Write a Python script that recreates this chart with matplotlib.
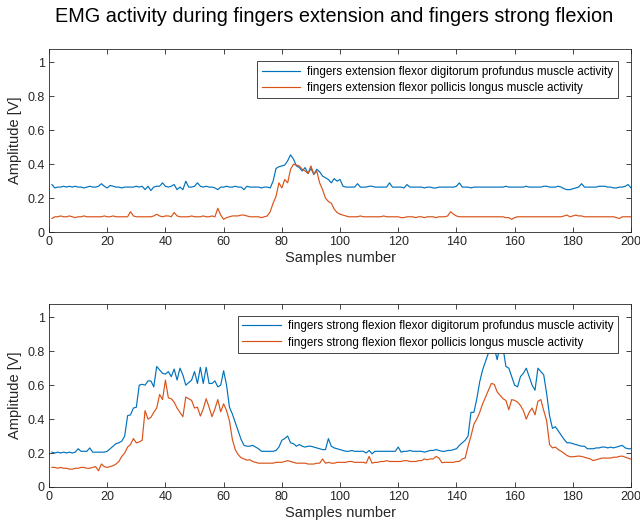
import numpy as np
import matplotlib
matplotlib.use('Agg')
import matplotlib.pyplot as plt
from matplotlib.ticker import FormatStrFormatter

plt.rcParams['font.family'] = ['Liberation Sans', 'DejaVu Sans']

# sample index (1..200)
samples = np.arange(1, 201)

# fingers extension - flexor digitorum profundus
ext_fdp = [
    0.28, 0.26, 0.265, 0.265, 0.27, 0.265, 0.27, 0.265, 0.27, 0.265,
    0.265, 0.26, 0.265, 0.27, 0.265, 0.265, 0.27, 0.285, 0.27, 0.26,
    0.275, 0.27, 0.265, 0.265, 0.26, 0.265, 0.265, 0.265, 0.265, 0.27,
    0.265, 0.27, 0.25, 0.27, 0.245, 0.265, 0.27, 0.27, 0.29, 0.27,
    0.265, 0.27, 0.28, 0.25, 0.265, 0.25, 0.30, 0.265, 0.265, 0.27,
    0.29, 0.27, 0.265, 0.27, 0.265, 0.265, 0.26, 0.25, 0.265, 0.265,
    0.27, 0.265, 0.265, 0.27, 0.265, 0.265, 0.25, 0.27, 0.265, 0.265,
    0.265, 0.265, 0.26, 0.265, 0.265, 0.26, 0.30, 0.375, 0.385, 0.39,
    0.395, 0.42, 0.455, 0.43, 0.39, 0.38, 0.36, 0.38, 0.345, 0.375,
    0.34, 0.37, 0.355, 0.33, 0.32, 0.31, 0.29, 0.315, 0.30, 0.31,
    0.27, 0.265, 0.265, 0.265, 0.265, 0.285, 0.265, 0.265, 0.265, 0.27,
    0.27, 0.265, 0.265, 0.265, 0.265, 0.265, 0.29, 0.265, 0.265, 0.265,
    0.265, 0.26, 0.28, 0.265, 0.265, 0.265, 0.265, 0.265, 0.26, 0.265,
    0.265, 0.26, 0.26, 0.265, 0.265, 0.265, 0.265, 0.265, 0.265, 0.27,
    0.29, 0.265, 0.265, 0.265, 0.26, 0.265, 0.265, 0.265, 0.265, 0.265,
    0.265, 0.265, 0.265, 0.265, 0.265, 0.265, 0.27, 0.265, 0.265, 0.265,
    0.265, 0.265, 0.265, 0.27, 0.265, 0.265, 0.265, 0.265, 0.265, 0.27,
    0.27, 0.265, 0.265, 0.265, 0.27, 0.265, 0.255, 0.25, 0.25, 0.255,
    0.26, 0.265, 0.285, 0.265, 0.265, 0.265, 0.265, 0.265, 0.27, 0.27,
    0.27, 0.265, 0.265, 0.26, 0.26, 0.265, 0.265, 0.27, 0.28, 0.26,
]

# fingers extension - flexor pollicis longus
ext_fpl = [
    0.08, 0.09, 0.09, 0.095, 0.09, 0.09, 0.095, 0.09, 0.085, 0.09,
    0.09, 0.095, 0.09, 0.09, 0.09, 0.09, 0.09, 0.09, 0.095, 0.09,
    0.09, 0.095, 0.09, 0.09, 0.09, 0.09, 0.09, 0.12, 0.095, 0.09,
    0.09, 0.09, 0.09, 0.09, 0.09, 0.095, 0.105, 0.095, 0.09, 0.095,
    0.095, 0.09, 0.115, 0.095, 0.09, 0.09, 0.09, 0.09, 0.095, 0.09,
    0.09, 0.09, 0.095, 0.09, 0.09, 0.095, 0.09, 0.14, 0.10, 0.075,
    0.085, 0.09, 0.095, 0.095, 0.095, 0.10, 0.10, 0.095, 0.09, 0.09,
    0.09, 0.09, 0.085, 0.09, 0.095, 0.12, 0.17, 0.21, 0.29, 0.26,
    0.31, 0.29, 0.37, 0.40, 0.395, 0.39, 0.37, 0.36, 0.345, 0.39,
    0.34, 0.36, 0.29, 0.25, 0.20, 0.18, 0.17, 0.135, 0.115, 0.105,
    0.10, 0.095, 0.09, 0.09, 0.09, 0.09, 0.095, 0.09, 0.09, 0.09,
    0.09, 0.09, 0.09, 0.09, 0.095, 0.09, 0.09, 0.09, 0.09, 0.09,
    0.085, 0.085, 0.09, 0.09, 0.09, 0.085, 0.09, 0.09, 0.085, 0.09,
    0.09, 0.09, 0.085, 0.09, 0.09, 0.09, 0.095, 0.12, 0.105, 0.095,
    0.09, 0.09, 0.09, 0.09, 0.09, 0.09, 0.09, 0.09, 0.09, 0.09,
    0.09, 0.09, 0.09, 0.09, 0.09, 0.09, 0.085, 0.085, 0.075, 0.085,
    0.09, 0.09, 0.09, 0.09, 0.09, 0.09, 0.09, 0.09, 0.09, 0.09,
    0.09, 0.09, 0.09, 0.09, 0.09, 0.09, 0.095, 0.10, 0.09, 0.095,
    0.10, 0.095, 0.095, 0.09, 0.09, 0.09, 0.09, 0.09, 0.09, 0.09,
    0.09, 0.09, 0.09, 0.09, 0.085, 0.08, 0.09, 0.09, 0.09, 0.09,
]

# fingers strong flexion - flexor digitorum profundus
flex_fdp = [
    0.205, 0.20, 0.205, 0.20, 0.205, 0.20, 0.205, 0.20, 0.205, 0.225,
    0.21, 0.21, 0.21, 0.23, 0.205, 0.205, 0.205, 0.205, 0.205, 0.21,
    0.225, 0.24, 0.255, 0.26, 0.27, 0.30, 0.42, 0.425, 0.465, 0.47,
    0.60, 0.605, 0.60, 0.625, 0.625, 0.59, 0.71, 0.69, 0.67, 0.665,
    0.68, 0.65, 0.695, 0.63, 0.70, 0.66, 0.60, 0.615, 0.63, 0.68,
    0.61, 0.705, 0.61, 0.705, 0.61, 0.61, 0.625, 0.59, 0.60, 0.685,
    0.60, 0.47, 0.43, 0.38, 0.33, 0.28, 0.245, 0.24, 0.24, 0.245,
    0.235, 0.225, 0.21, 0.21, 0.21, 0.21, 0.21, 0.215, 0.235, 0.275,
    0.285, 0.30, 0.26, 0.255, 0.24, 0.25, 0.24, 0.235, 0.24, 0.24,
    0.235, 0.23, 0.225, 0.22, 0.22, 0.285, 0.24, 0.23, 0.225, 0.22,
    0.215, 0.21, 0.21, 0.215, 0.21, 0.21, 0.21, 0.21, 0.20, 0.215,
    0.195, 0.21, 0.21, 0.21, 0.21, 0.21, 0.21, 0.21, 0.21, 0.235,
    0.205, 0.21, 0.21, 0.215, 0.21, 0.21, 0.21, 0.21, 0.205, 0.21,
    0.215, 0.215, 0.22, 0.215, 0.21, 0.21, 0.215, 0.215, 0.22, 0.225,
    0.245, 0.26, 0.275, 0.30, 0.44, 0.44, 0.52, 0.62, 0.69, 0.74,
    0.79, 0.84, 0.82, 0.75, 0.84, 0.82, 0.71, 0.70, 0.65, 0.60,
    0.59, 0.65, 0.67, 0.70, 0.65, 0.60, 0.57, 0.70, 0.68, 0.66,
    0.55, 0.42, 0.345, 0.355, 0.33, 0.305, 0.28, 0.26, 0.26, 0.255,
    0.25, 0.245, 0.24, 0.24, 0.225, 0.225, 0.225, 0.23, 0.23, 0.235,
    0.235, 0.23, 0.235, 0.23, 0.235, 0.24, 0.245, 0.23, 0.225, 0.225,
]

# fingers strong flexion - flexor pollicis longus
flex_fpl = [
    0.115, 0.115, 0.11, 0.115, 0.11, 0.11, 0.105, 0.105, 0.11, 0.11,
    0.115, 0.115, 0.11, 0.11, 0.115, 0.12, 0.095, 0.135, 0.12, 0.115,
    0.12, 0.125, 0.135, 0.15, 0.18, 0.20, 0.235, 0.25, 0.285, 0.26,
    0.265, 0.275, 0.45, 0.40, 0.41, 0.44, 0.465, 0.545, 0.515, 0.63,
    0.525, 0.52, 0.50, 0.465, 0.44, 0.414, 0.53, 0.52, 0.51, 0.465,
    0.47, 0.418, 0.46, 0.52, 0.47, 0.414, 0.46, 0.515, 0.443, 0.49,
    0.45, 0.39, 0.28, 0.22, 0.19, 0.172, 0.165, 0.158, 0.16, 0.15,
    0.145, 0.14, 0.14, 0.14, 0.14, 0.14, 0.14, 0.145, 0.145, 0.145,
    0.15, 0.155, 0.15, 0.145, 0.14, 0.14, 0.14, 0.14, 0.135, 0.135,
    0.135, 0.14, 0.14, 0.165, 0.14, 0.145, 0.14, 0.14, 0.145, 0.145,
    0.145, 0.145, 0.15, 0.15, 0.145, 0.145, 0.145, 0.145, 0.14, 0.18,
    0.14, 0.145, 0.145, 0.15, 0.15, 0.155, 0.15, 0.15, 0.15, 0.15,
    0.15, 0.155, 0.155, 0.15, 0.15, 0.15, 0.155, 0.155, 0.165, 0.16,
    0.165, 0.165, 0.18, 0.17, 0.143, 0.145, 0.145, 0.145, 0.145, 0.15,
    0.15, 0.165, 0.17, 0.24, 0.30, 0.37, 0.40, 0.44, 0.49, 0.53,
    0.57, 0.61, 0.605, 0.56, 0.54, 0.52, 0.51, 0.455, 0.515, 0.51,
    0.50, 0.48, 0.45, 0.40, 0.44, 0.465, 0.425, 0.505, 0.515, 0.45,
    0.39, 0.25, 0.23, 0.235, 0.22, 0.21, 0.198, 0.185, 0.178, 0.178,
    0.18, 0.182, 0.18, 0.175, 0.17, 0.165, 0.155, 0.16, 0.165, 0.17,
    0.17, 0.17, 0.17, 0.175, 0.175, 0.18, 0.182, 0.175, 0.17, 0.163,
]

title = 'EMG activity during fingers extension and fingers strong flexion'
ext_labels = ['fingers extension flexor digitorum profundus muscle activity',
              'fingers extension flexor pollicis longus muscle activity']
flex_labels = ['fingers strong flexion flexor digitorum profundus muscle activity',
               'fingers strong flexion flexor pollicis longus muscle activity']

blue = '#0072BD'
orange = '#D95319'
axcol = '#262626'

fig = plt.figure(figsize=(6.4, 5.31), dpi=100)
ax1 = fig.add_axes([0.0766, 0.563, 0.9094, 0.345])
ax2 = fig.add_axes([0.0766, 0.083, 0.9094, 0.345])

for ax, (a, b), labels in [(ax1, (ext_fdp, ext_fpl), ext_labels),
                           (ax2, (flex_fdp, flex_fpl), flex_labels)]:
    ax.plot(samples, a, color=blue, lw=0.85, label=labels[0])
    ax.plot(samples, b, color=orange, lw=0.85, label=labels[1])
    ax.set_xlim(0, 200)
    ax.set_ylim(0, 1.08)
    ax.set_xticks(np.arange(0, 201, 20))
    ax.set_yticks([0, 0.2, 0.4, 0.6, 0.8, 1])
    ax.yaxis.set_major_formatter(FormatStrFormatter('%g'))
    ax.tick_params(direction='in', top=True, right=True, length=3.5,
                   width=0.6, labelsize=9, colors=axcol, pad=3)
    for s in ax.spines.values():
        s.set_color(axcol)
        s.set_linewidth(0.6)
    ax.set_xlabel('Samples number', fontsize=10.5, color=axcol, labelpad=2)
    ax.set_ylabel('Amplitude [V]', fontsize=10.5, color=axcol, labelpad=4)
    leg = ax.legend(loc='upper right', bbox_to_anchor=(0.978, 0.934),
                    fontsize=8.4, handlelength=3.3, handletextpad=0.6,
                    fancybox=False, framealpha=1, edgecolor=axcol,
                    borderaxespad=0, borderpad=0.4, labelspacing=0.35)
    leg.get_frame().set_linewidth(0.6)

# title centred over the axes, like the original
fig.suptitle(title, fontsize=14.3, x=0.522, y=0.968, va='center')

plt.savefig('out.png', dpi=100)
